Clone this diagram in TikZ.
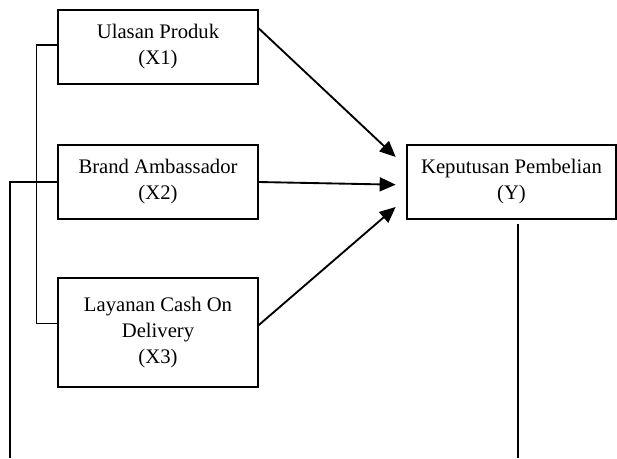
\documentclass[tikz,border=0pt]{standalone}
\usepackage{fontspec}
\setmainfont{Liberation Serif}
\usetikzlibrary{arrows.meta}

\tikzset{
  varbox/.style={draw, line width=1pt, align=center, inner sep=0.75pt,
    minimum width=150pt, minimum height=55.5pt,
    font=\fontsize{15.5}{19.5}\selectfont},
  link/.style={line width=1pt},
  pathto/.style={line width=1.4pt, -{Triangle[length=12pt,width=10.5pt]}}
}

\begin{document}
\begin{tikzpicture}[x=0.75pt,y=0.75pt,yscale=-1,xscale=1]
\useasboundingbox (0,0) rectangle (617,458);

%Shape: Rectangle (X1)
\node [varbox] (ulasan) at (158,47) {Ulasan Produk\\(X1)};
%Shape: Rectangle (X2)
\node [varbox] (brand) at (158,182) {Brand Ambassador\\(X2)};
%Shape: Rectangle (X3)
\node [varbox, minimum height=81.75pt] (cod) at (158,332.5) {Layanan Cash On\\Delivery\\(X3)};
%Shape: Rectangle (Y)
\node [varbox, minimum width=156.75pt] (keputusan) at (511.5,182) {Keputusan Pembelian\\(Y)};

% free ends of the open lines
\coordinate (leftbot) at (10,458);
\coordinate (rightbot) at (518,458);

%Straight Lines: bracket X1 -- X3
\draw [link] ([yshift=-1.5pt]ulasan.west) -- ++(-21,0) |- ([yshift=-7pt]cod.west);
%Straight Lines: X2 out to the left
\draw [link] (brand.west) -- (leftbot |- brand.west) -- (leftbot);
%Straight Lines: Y down
\draw [link] ([yshift=3pt]rightbot |- keputusan.south) -- (rightbot);

%Arrows
\draw [pathto] ([yshift=-14pt]ulasan.east) -- ([xshift=-8pt,yshift=-18.75pt]keputusan.west);
\draw [pathto] (brand.east) -- ([xshift=-8pt,yshift=2pt]keputusan.west);
\draw [pathto] ([yshift=-5.5pt]cod.east) -- ([xshift=-8pt,yshift=18.75pt]keputusan.west);

\end{tikzpicture}
\end{document}
